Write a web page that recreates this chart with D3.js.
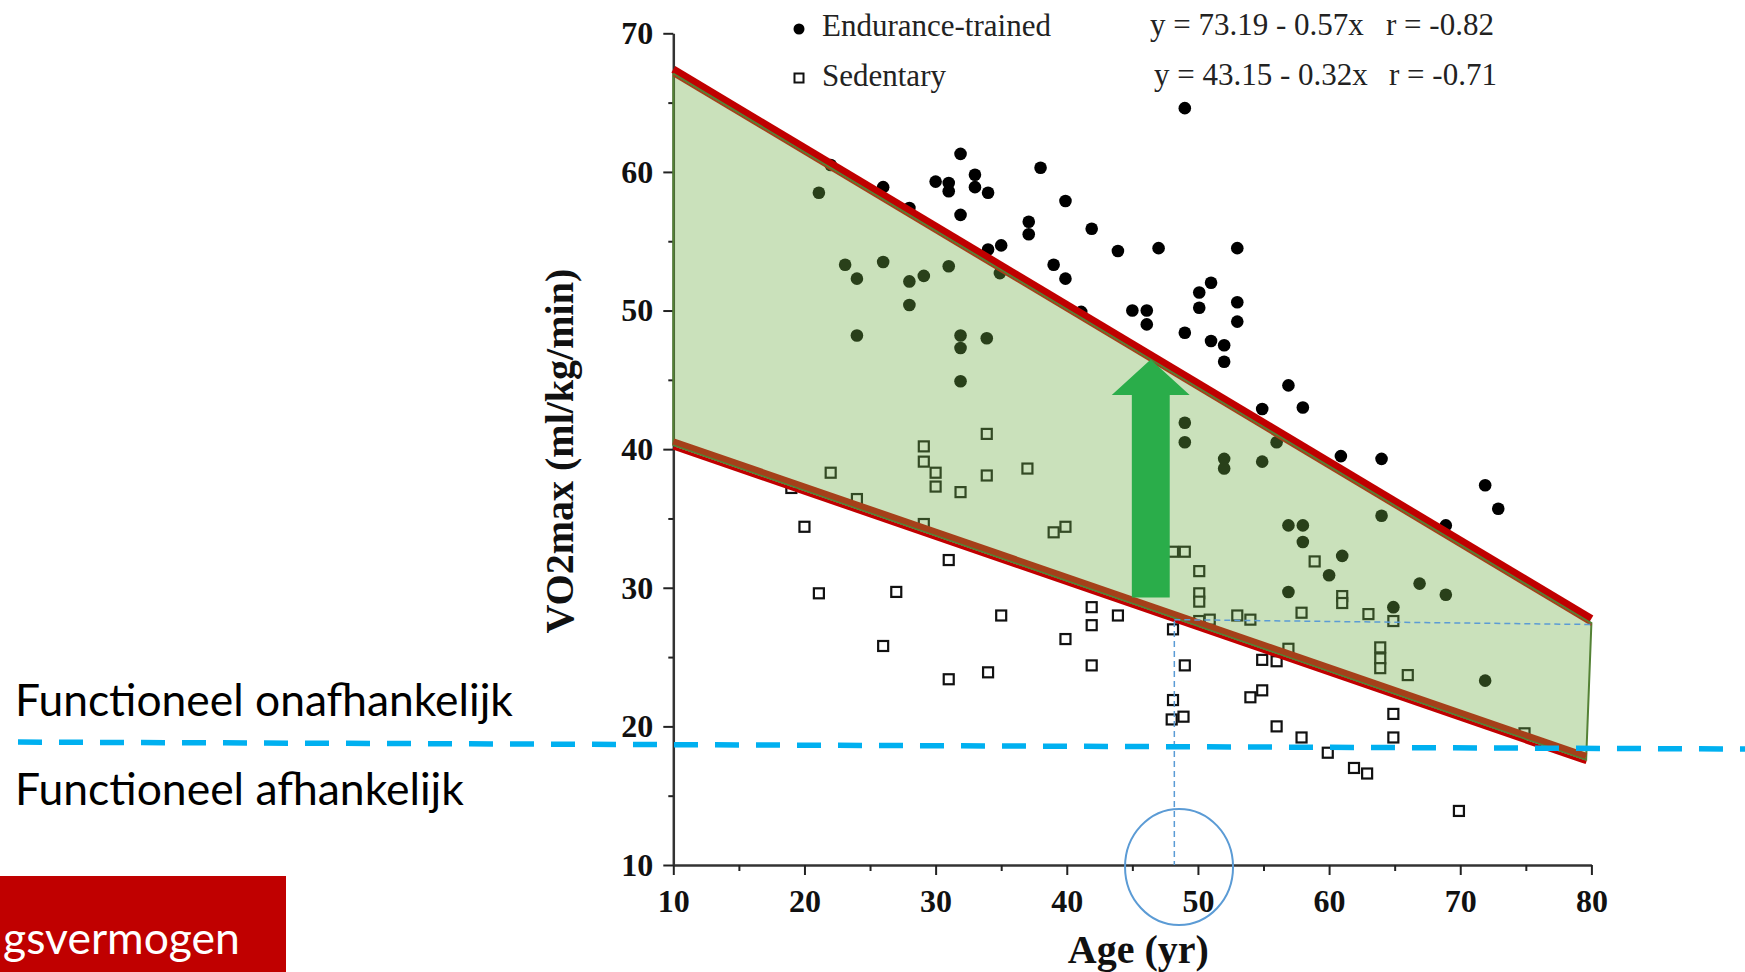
<!DOCTYPE html>
<meta charset="utf-8">

<!-- Load d3.js -->
<script src="https://d3js.org/d3.v7.min.js"></script>

<style>
    body { margin: 0; background: #fff; }
    svg { display: block; }
    .axis text { font-family: "Liberation Serif", "Times New Roman", serif; font-weight: bold; font-size: 32px; fill: #111; }
</style>

<body>
<div id="my_dataviz"></div>

<script>

    // Endurance-trained (filled dots): age (yr) and VO2max (ml/kg/min)
    var trainedAge = [21.1, 22.0, 23.1, 24.0, 24.0, 26.0, 26.0, 28.0, 28.0, 28.0, 29.1, 30.0, 31.0, 31.0, 31.0,
        31.9, 31.9, 31.9, 31.9, 31.9, 33.0, 33.0, 34.0, 34.0, 33.9, 35.0, 34.9, 37.1, 37.1, 38.0, 39.0, 39.9,
        39.9, 41.1, 41.9, 43.9, 45.0, 46.1, 46.1, 47.0, 49.0, 49.0, 49.0, 49.0, 50.1, 50.1, 51.0, 51.0, 52.0,
        52.0, 52.0, 52.0, 53.0, 53.0, 53.0, 54.9, 54.9, 56.0, 56.9, 56.9, 56.9, 58.0, 58.0, 58.0, 60.0, 60.9,
        61.0, 64.0, 64.0, 64.9, 66.9, 68.9, 68.9, 71.9, 72.9, 71.9];
    var trainedVO2 = [58.5, 60.5, 53.3, 52.3, 48.2, 58.9, 53.5, 57.4, 52.1, 50.4, 52.5, 59.3, 59.2, 58.6, 53.2,
        61.3, 56.9, 48.2, 47.3, 44.9, 59.8, 58.9, 58.5, 54.4, 48.0, 54.7, 52.7, 56.4, 55.5, 60.3, 53.3, 57.9,
        52.3, 49.9, 55.9, 54.3, 50.0, 50.0, 49.0, 54.5, 64.6, 48.4, 41.9, 40.5, 51.3, 50.2, 52.0, 47.8, 47.5,
        46.3, 39.3, 38.6, 54.5, 50.6, 49.2, 42.9, 39.1, 40.5, 44.6, 34.5, 29.7, 43.0, 34.5, 33.3, 30.9, 39.5,
        32.3, 39.3, 35.2, 28.6, 30.3, 34.5, 29.5, 37.4, 35.7, 23.3];

    // Sedentary (open squares)
    var sedentaryAge = [19.0, 20.0, 21.1, 22.0, 24.0, 26.0, 27.0, 29.1, 29.1, 29.1, 30.0, 30.0, 31.0, 31.0, 31.9,
        33.9, 33.9, 34.0, 35.0, 37.0, 39.0, 39.9, 39.9, 41.9, 41.9, 41.9, 43.9, 48.1, 49.0, 50.1, 50.1, 50.1,
        48.1, 48.1, 48.0, 48.9, 49.0, 50.1, 50.9, 53.0, 54.0, 54.0, 54.9, 54.9, 56.0, 56.0, 56.9, 57.9, 57.9,
        58.9, 59.9, 61.0, 61.0, 61.9, 62.9, 63.0, 63.9, 63.9, 63.9, 64.9, 64.9, 64.9, 66.0, 69.9, 74.9];
    var sedentaryVO2 = [37.2, 34.4, 29.6, 38.3, 36.4, 25.8, 29.7, 40.2, 39.1, 34.6, 38.3, 37.3, 32.0, 23.4, 36.9,
        41.1, 38.1, 23.9, 28.0, 38.6, 34.0, 34.4, 26.3, 28.6, 27.3, 24.4, 28.0, 32.6, 32.6, 31.2, 29.6, 29.0,
        27.0, 21.9, 20.5, 20.7, 24.4, 27.6, 27.7, 28.0, 27.7, 22.1, 22.6, 24.8, 24.7, 20.0, 25.6, 28.2, 19.2,
        31.9, 18.1, 29.4, 28.9, 17.0, 16.6, 28.1, 25.7, 24.9, 24.2, 27.6, 20.9, 19.2, 23.7, 13.9, 19.5];

    var xTicks = [10, 20, 30, 40, 50, 60, 70, 80];
    var yTicks = [10, 20, 30, 40, 50, 60, 70];
    var legendLabels = ["Endurance-trained", "Sedentary"];
    var equations = ["y = 73.19 - 0.57x", "y = 43.15 - 0.32x"];
    var correlations = ["r = -0.82", "r = -0.71"];

    // annotation overlay (in axis units)
    var bandTop = [[10, 67.1], [80, 27.45]];
    var bandBottom = [[10, 40.3], [79.6, 17.6]];
    var arrowAge = [44.96, 44.96, 43.43, 46.4, 49.37, 47.85, 47.85];
    var arrowVO2 = [29.3, 43.9, 43.9, 46.47, 43.9, 43.9, 29.3];
    var thresholdVO2 = [18.87, 18.37];
    var markAge = 48.2, markVO2 = 27.6;

    var width = 1745, height = 972;

    var svg = d3.select("#my_dataviz")
        .append("svg")
        .attr("width", width)
        .attr("height", height);

    var x = d3.scaleLinear().domain([10, 80]).range([673.3, 1591.4]);
    var y = d3.scaleLinear().domain([10, 70]).range([865, 33.3]);

    // X axis
    svg.append("g")
        .attr("class", "axis")
        .attr("transform", "translate(0," + y(10) + ")")
        .call(d3.axisBottom(x).tickValues(xTicks).tickSize(10).tickSizeOuter(0).tickPadding(14).tickFormat(d3.format("d")));
    svg.append("g")
        .attr("transform", "translate(0," + y(10) + ")")
        .call(d3.axisBottom(x).tickValues(d3.range(15, 80, 10)).tickSize(6).tickSizeOuter(0).tickFormat(""))
        .select(".domain").remove();

    // Y axis
    svg.append("g")
        .attr("class", "axis")
        .attr("transform", "translate(" + x(10) + ",0)")
        .call(d3.axisLeft(y).tickValues(yTicks).tickSize(10).tickSizeOuter(0).tickPadding(10).tickFormat(d3.format("d")));
    svg.append("g")
        .attr("transform", "translate(" + x(10) + ",0)")
        .call(d3.axisLeft(y).tickValues(d3.range(15, 70, 10)).tickSize(5).tickSizeOuter(0).tickFormat(""))
        .select(".domain").remove();

    svg.selectAll(".domain").attr("stroke", "#333").attr("stroke-width", 2.5);
    svg.selectAll(".tick line").attr("stroke", "#222").attr("stroke-width", 2);

    // axis titles
    svg.append("text")
        .attr("text-anchor", "middle")
        .attr("x", x(45) + 6)
        .attr("y", 963)
        .attr("font-family", "Liberation Serif, serif")
        .attr("font-weight", "bold")
        .attr("font-size", "40px")
        .attr("fill", "#111")
        .text("Age (yr)");

    svg.append("text")
        .attr("text-anchor", "middle")
        .attr("transform", "translate(573," + (y(40) + 2) + ") rotate(-90)")
        .attr("font-family", "Liberation Serif, serif")
        .attr("font-weight", "bold")
        .attr("font-size", "40px")
        .attr("fill", "#111")
        .text("VO2max (ml/kg/min)");

    // Sedentary squares
    var sq = 10;
    svg.append("g")
        .selectAll("rect")
        .data(d3.range(sedentaryAge.length))
        .enter()
        .append("rect")
        .attr("x", function (i) { return x(sedentaryAge[i]) - sq / 2; })
        .attr("y", function (i) { return y(sedentaryVO2[i]) - sq / 2; })
        .attr("width", sq)
        .attr("height", sq)
        .style("fill", "white")
        .style("stroke", "#111")
        .style("stroke-width", 2.2);

    // Endurance-trained dots
    svg.append("g")
        .selectAll("circle")
        .data(d3.range(trainedAge.length))
        .enter()
        .append("circle")
        .attr("cx", function (i) { return x(trainedAge[i]); })
        .attr("cy", function (i) { return y(trainedVO2[i]); })
        .attr("r", 6.3)
        .style("fill", "#000");

    // legend + equations
    var leg = svg.append("g")
        .attr("font-family", "Liberation Serif, serif")
        .attr("font-size", "31px")
        .attr("fill", "#222");
    leg.append("circle").attr("cx", 799).attr("cy", 29).attr("r", 5.5).style("fill", "#000");
    leg.append("rect").attr("x", 794.5).attr("y", 73.5).attr("width", 9).attr("height", 9)
        .style("fill", "white").style("stroke", "#111").style("stroke-width", 2);
    leg.selectAll(".lab").data(legendLabels).enter().append("text")
        .attr("x", 822).attr("y", function (d, i) { return 36 + i * 50; })
        .text(function (d) { return d; });
    leg.selectAll(".eq").data(equations).enter().append("text")
        .attr("x", function (d, i) { return 1150 + i * 4; })
        .attr("y", function (d, i) { return 35 + i * 50; })
        .text(function (d) { return d; });
    leg.selectAll(".r").data(correlations).enter().append("text")
        .attr("x", function (d, i) { return 1386 + i * 3; })
        .attr("y", function (d, i) { return 35 + i * 50; })
        .text(function (d) { return d; });

    // green band over the points
    var band = [bandTop[0], bandTop[1], bandBottom[1], bandBottom[0]];
    svg.append("polygon")
        .attr("points", band.map(function (p) { return x(p[0]) + "," + y(p[1]); }).join(" "))
        .style("fill", "#70ad47")
        .style("fill-opacity", 0.37)
        .style("stroke", "#548235")
        .style("stroke-width", 2);

    var edge = function (pts, dy, color, w) {
        svg.append("line")
            .attr("x1", x(pts[0][0])).attr("y1", y(pts[0][1]) + dy)
            .attr("x2", x(pts[1][0])).attr("y2", y(pts[1][1]) + dy)
            .style("stroke", color)
            .style("stroke-width", w);
    }
    edge(bandTop, -4.3, "#c00000", 7.5);
    edge(bandTop, 1.8, "#a5401a", 2);
    edge(bandTop, 0, "#548235", 1.6);
    edge(bandBottom, 2.8, "#c00000", 3.5);
    edge(bandBottom, -3.5, "#a5401a", 6.5);
    edge(bandBottom, 0.3, "#548235", 1.6);

    // arrow
    svg.append("polygon")
        .attr("points", arrowAge.map(function (a, i) { return x(a) + "," + y(arrowVO2[i]); }).join(" "))
        .style("fill", "#2aad4a");

    // thin blue dashed guides
    svg.append("line")
        .attr("x1", x(markAge)).attr("y1", y(markVO2))
        .attr("x2", x(markAge)).attr("y2", y(10))
        .style("stroke", "#5b9bd5").style("stroke-width", 1.5).style("stroke-dasharray", "6,4");
    svg.append("line")
        .attr("x1", x(markAge)).attr("y1", y(markVO2 + 0.1))
        .attr("x2", x(80)).attr("y2", y(markVO2 - 0.25))
        .style("stroke", "#5b9bd5").style("stroke-width", 1.5).style("stroke-dasharray", "6,4");

    svg.append("ellipse")
        .attr("cx", x(48.56)).attr("cy", y(9.86))
        .attr("rx", 54).attr("ry", 58)
        .style("fill", "none")
        .style("stroke", "#5b9bd5")
        .style("stroke-width", 2);

    // threshold dashed line across the slide
    svg.append("line")
        .attr("x1", 18).attr("y1", y(thresholdVO2[0]))
        .attr("x2", width).attr("y2", y(thresholdVO2[1]))
        .style("stroke", "#00b0f0")
        .style("stroke-width", 5.5)
        .style("stroke-dasharray", "24,17");

    // slide texts
    var fit = function (sel, w) {
        var cur = sel.node().getComputedTextLength();
        sel.attr("font-size", 44 * w / cur);
    }
    var t1 = svg.append("text").attr("x", 15).attr("y", 716)
        .attr("font-family", "Lato, sans-serif").attr("font-size", 44).attr("fill", "#000")
        .text("Functioneel onafhankelijk");
    fit(t1, 498);
    var t2 = svg.append("text").attr("x", 15).attr("y", 805)
        .attr("font-family", "Lato, sans-serif").attr("font-size", 44).attr("fill", "#000")
        .text("Functioneel afhankelijk");
    fit(t2, 449);

    svg.append("rect").attr("x", 0).attr("y", 876).attr("width", 286).attr("height", 96).style("fill", "#c00000");
    var t3 = svg.append("text").attr("x", 3).attr("y", 954)
        .attr("font-family", "Lato, sans-serif").attr("font-size", 44).attr("fill", "#fff")
        .text("gsvermogen");
    fit(t3, 237);

</script>
</body>
